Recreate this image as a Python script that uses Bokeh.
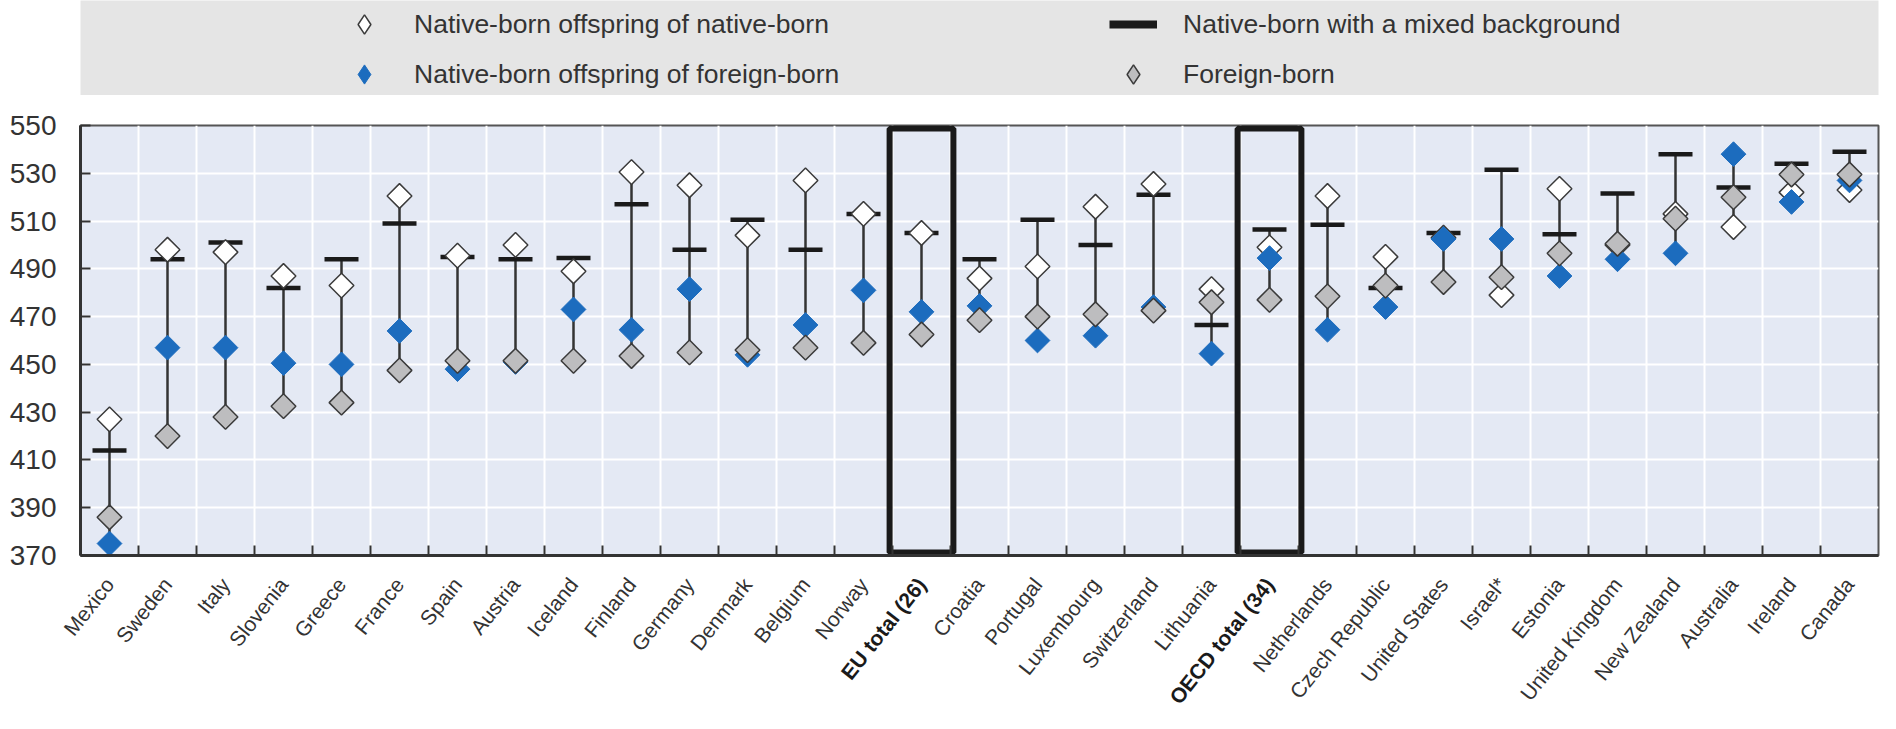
import math
import numpy as np
from bokeh.plotting import figure
from bokeh.layouts import column
from bokeh.models import (ColumnDataSource, FixedTicker, Legend, LegendItem, Range1d)
from bokeh.embed import file_html
from bokeh.resources import INLINE

# ---------------- data ----------------
countries = ["Mexico", "Sweden", "Italy", "Slovenia", "Greece", "France", "Spain", "Austria",
             "Iceland", "Finland", "Germany", "Denmark", "Belgium", "Norway", "EU total (26)",
             "Croatia", "Portugal", "Luxembourg", "Switzerland", "Lithuania", "OECD total (34)",
             "Netherlands", "Czech Republic", "United States", "Israel*", "Estonia",
             "United Kingdom", "New Zealand", "Australia", "Ireland", "Canada"]

native_of_native = [427, 498, 497, 487, 483, 520.5, 495.5, 500, 489, 530.5, 525, 504, 527, 513, 505,
                    486, 491, 516, 525.5, 481.5, 499, 520.5, 495, 503, 479, 523.5,
                    500, 513, 507.5, 522, 523]
native_of_foreign = [375, 457, 457, 450.5, 450, 464, 448, 451, 473, 464.5, 481.5, 454, 466.5, 481, 472,
                     474.5, 460, 462, 474, 454.5, 494.5, 464.5, 474, 502.5, 502.5, 487,
                     494, 496.5, 538, 518, 527]
mixed_background = [414, 494, 501, 482, 494, 509, 495, 494, 494.5, 517, 498, 510.5, 498, 513, 505,
                     494, 510.5, 500, 521, 466.5, 506.5, 508.5, 482, 505, 531.5, 504.5,
                     521.5, 538, 524, 534, 539]
foreign_born = [386, 420, 428, 432.5, 434, 447.5, 451.5, 451.5, 451.5, 453.5, 455, 456, 457, 459, 462.5,
                468.5, 470, 471, 472.5, 476, 477, 478.5, 483, 484.5, 486.5, 496.5,
                500.5, 511, 520, 529.5, 529.5]

highlight = ["EU total (26)", "OECD total (34)"]
y_ticks = [370, 390, 410, 430, 450, 470, 490, 510, 530, 550]

legend_labels = ["Native-born offspring of native-born",
                 "Native-born offspring of foreign-born",
                 "Native-born with a mixed background",
                 "Foreign-born"]

# ---------------- styling / layout ----------------
FONT = "Liberation Sans"
TXT = "#333333"
BLUE = "#1c6cbe"
GREY = "#bdbdbf"
EDGE = "#3a3a3a"
DIAMOND = 17.5
ANG = math.pi / 4
LBL_ANGLE = 0.9
LBL_SIZE = "21px"
LBL_DROP = 9          # px from top of label strip to label anchor

W = 1880
LEFT, RIGHT = 80, 2
FRAME_W = W - LEFT - RIGHT
LEG_TOP, LEG_H = 0, 95
MAIN_TOP, FRAME_H, MAIN_BOTTOM = 30, 430, 16
STRIP_H = 713 - (LEG_TOP + LEG_H) - (MAIN_TOP + FRAME_H + MAIN_BOTTOM)

n = len(countries)
x = np.arange(n)
vals = np.array([native_of_native, native_of_foreign, mixed_background, foreign_born])
src = ColumnDataSource(dict(x=x, nn=native_of_native, nf=native_of_foreign,
                            mx=mixed_background, fb=foreign_born,
                            lo=vals.min(axis=0), hi=vals.max(axis=0),
                            name=countries,
                            style=["bold" if c in highlight else "normal" for c in countries],
                            color=["#1a1a1a" if c in highlight else TXT for c in countries]))

y0, y1 = y_ticks[0], y_ticks[-1]

# ---------------- main chart ----------------
p = figure(width=W, height=MAIN_TOP + FRAME_H + MAIN_BOTTOM, x_range=Range1d(-0.5, n - 0.5),
           y_range=Range1d(y0, y1), output_backend="svg", toolbar_location=None,
           min_border_left=LEFT, min_border_right=RIGHT, min_border_top=MAIN_TOP,
           min_border_bottom=MAIN_BOTTOM)
p.background_fill_color = "#e4e9f4"
p.border_fill_color = "white"
p.outline_line_color = "#555555"
p.outline_line_width = 2

xt = FixedTicker(ticks=list(x), minor_ticks=list(x[:-1] + 0.5))
p.xaxis.ticker = xt
p.xgrid.ticker = xt
p.xgrid.grid_line_color = None
p.xgrid.minor_grid_line_color = "white"
p.xgrid.minor_grid_line_width = 2

yt = FixedTicker(ticks=y_ticks, minor_ticks=[])
p.yaxis.ticker = yt
p.ygrid.ticker = yt
p.ygrid.grid_line_color = "white"
p.ygrid.grid_line_width = 2

for ax in (p.xaxis, p.yaxis):
    ax.axis_line_color = "#333333"
    ax.axis_line_width = 3
    ax.major_label_text_font = FONT
    ax.major_label_text_color = TXT

p.yaxis.major_tick_in = 10
p.yaxis.major_tick_out = 0
p.yaxis.major_tick_line_color = "#333333"
p.yaxis.major_tick_line_width = 2
p.yaxis.minor_tick_line_color = None
p.yaxis.major_label_text_font_size = "28px"
p.yaxis.major_label_standoff = 24

p.xaxis.major_tick_in = 0
p.xaxis.major_tick_out = 0
p.xaxis.major_tick_line_color = None
p.xaxis.minor_tick_in = 10
p.xaxis.minor_tick_out = 0
p.xaxis.minor_tick_line_color = "#333333"
p.xaxis.minor_tick_line_width = 2
p.xaxis.major_label_standoff = 0
p.xaxis.major_label_text_font_size = "1px"
p.xaxis.major_label_overrides = {int(i): "" for i in x}

# highlight boxes
hx = np.array([i for i, c in zip(x, countries) if c in highlight])
p.quad(left=hx - 0.55, right=hx + 0.55, top=y1 - 1.3, bottom=y0 + 1.3,
       fill_color=None, line_color="#1a1a1a", line_width=6)

# range lines and markers
p.segment(x0="x", y0="lo", x1="x", y1="hi", line_color="#333333", line_width=2.5, source=src)
p.scatter("x", "mx", marker="dash", size=34, line_color="#1a1a1a", line_width=4.5, source=src)
p.scatter("x", "nn", marker="square", angle=ANG, size=DIAMOND, fill_color="white",
          line_color=EDGE, line_width=1.5, source=src)
p.scatter("x", "nf", marker="square", angle=ANG, size=DIAMOND, fill_color=BLUE,
          line_color=BLUE, line_width=1, source=src)
p.scatter("x", "fb", marker="square", angle=ANG, size=DIAMOND, fill_color=GREY,
          line_color=EDGE, line_width=1.5, source=src)

# ---------------- category labels strip (same x scale as the chart) ----------------
ppu = FRAME_W / n
ps = figure(width=W, height=STRIP_H, output_backend="svg", toolbar_location=None,
            x_axis_location=None, y_axis_location=None,
            x_range=Range1d(-0.5 - LEFT / ppu, n - 0.5 + RIGHT / ppu),
            y_range=Range1d(-STRIP_H, 0),
            min_border_left=0, min_border_right=0, min_border_top=0, min_border_bottom=0)
if "frame_align" in ps.properties():
    ps.frame_align = False
ps.background_fill_color = "white"
ps.border_fill_color = "white"
ps.outline_line_color = None
ps.grid.visible = False
ps.text(x="x", y=-LBL_DROP, text="name", source=src, angle=LBL_ANGLE,
        text_align="right", text_baseline="middle", text_font={"value": FONT},
        text_font_size={"value": LBL_SIZE}, text_font_style="style", text_color="color")

# ---------------- legend band ----------------
pl = figure(width=W, height=LEG_TOP + LEG_H, output_backend="svg", toolbar_location=None,
            x_axis_location=None, y_axis_location=None,
            x_range=Range1d(-1000, -999), y_range=Range1d(-1000, -999),
            min_border_left=LEFT, min_border_right=RIGHT, min_border_top=LEG_TOP, min_border_bottom=0)
pl.background_fill_color = "#e5e5e5"
pl.border_fill_color = "white"
pl.outline_line_color = None
pl.grid.visible = False

r_nn = pl.scatter("x", "nn", source=src, marker="diamond", fill_color="white",
                  line_color=EDGE, line_width=1.5)
r_nf = pl.scatter("x", "nf", source=src, marker="diamond", fill_color=BLUE,
                  line_color=BLUE, line_width=1)
r_mx = pl.line("x", "mx", source=src, line_color="#1a1a1a", line_width=8)
r_fb = pl.scatter("x", "fb", source=src, marker="diamond", fill_color=GREY,
                  line_color=EDGE, line_width=1.5)

legend = Legend(items=[LegendItem(label=legend_labels[0], renderers=[r_nn]),
                       LegendItem(label=legend_labels[1], renderers=[r_nf]),
                       LegendItem(label=legend_labels[2], renderers=[r_mx]),
                       LegendItem(label=legend_labels[3], renderers=[r_fb])],
                orientation="vertical", nrows=2, location=(260, -3),
                glyph_width=48, glyph_height=48, label_height=40, label_width=693,
                label_standoff=26, spacing=2, padding=0, margin=0,
                background_fill_alpha=0, border_line_color=None,
                label_text_font=FONT, label_text_font_size="26.5px", label_text_color=TXT)
pl.add_layout(legend, "center")

layout = column(pl, p, ps)
open("out.html", "w").write(file_html(layout, INLINE))
